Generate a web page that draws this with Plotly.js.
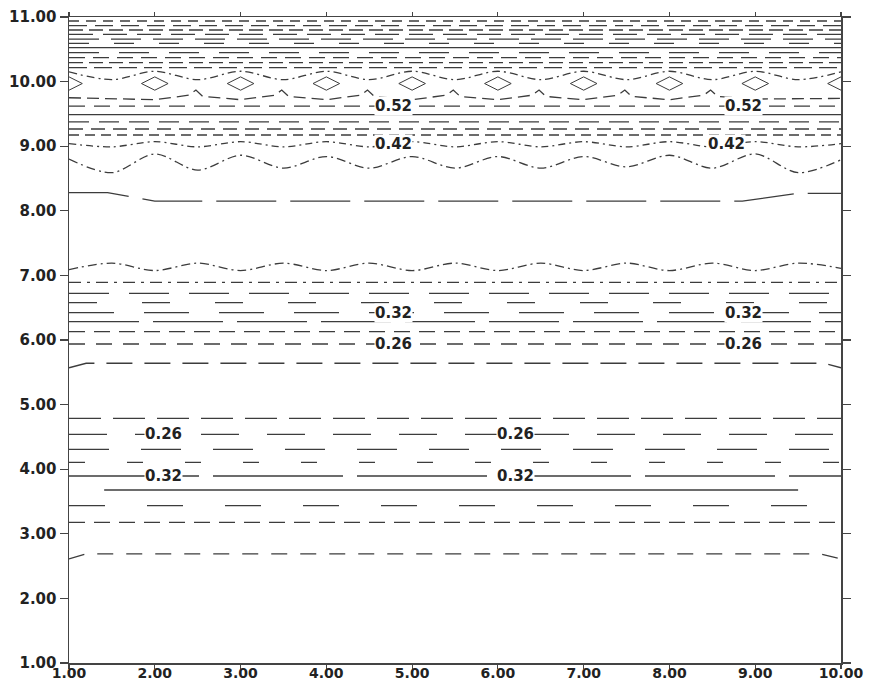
<!DOCTYPE html>
<html>
<head>
<meta charset="utf-8">
<script src="https://cdn.plot.ly/plotly-3.0.1.min.js"></script>
<style>html,body{margin:0;padding:0;background:#fff;}#chart{width:869px;height:683px;}</style>
</head>
<body>
<div id="chart"></div>
<script>
// ---- data ----
// straight (horizontal) contour lines: level position on y
const flatY = [10.938, 10.865, 10.799, 10.732, 10.659, 10.593, 10.525, 10.447, 10.370, 10.293, 10.215,
               9.62, 9.49, 9.375, 9.266, 9.173,
               6.893, 6.723, 6.578, 6.423, 6.283, 6.129, 5.938,
               4.788, 4.540, 4.308, 4.107, 3.895, 3.435, 3.178];

// x positions for the wavy lines
const xHalf = [1, 1.5, 2, 2.5, 3, 3.5, 4, 4.5, 5, 5.5, 6, 6.5, 7, 7.5, 8, 8.5, 9, 9.5, 10];
const waveTop = [10.15, 10.03, 10.16, 10.03, 10.16, 10.03, 10.16, 10.03, 10.16, 10.03, 10.16, 10.03, 10.16, 10.03, 10.16, 10.03, 10.16, 10.03, 10.15];
const wave42 = [9.04, 8.99, 9.07, 8.99, 9.07, 8.99, 9.07, 8.99, 9.07, 8.99, 9.07, 8.99, 9.07, 8.99, 9.07, 8.99, 9.07, 8.99, 9.04];
const waveBig = [8.80, 8.59, 8.88, 8.63, 8.86, 8.66, 8.84, 8.66, 8.84, 8.66, 8.84, 8.66, 8.84, 8.68, 8.86, 8.66, 8.88, 8.59, 8.79];
const wave7 = [7.09, 7.19, 7.075, 7.19, 7.075, 7.19, 7.075, 7.19, 7.075, 7.19, 7.075, 7.19, 7.075, 7.19, 7.075, 7.19, 7.075, 7.19, 7.11];

// spiky line just under the diamonds
const xSpike = [1, 2, 2.4, 2.48, 2.56, 3, 3.4, 3.48, 3.56, 4, 4.4, 4.48, 4.56, 5, 5.4, 5.48, 5.56, 6, 6.4, 6.48, 6.56, 7, 7.4, 7.48, 7.56, 8, 8.4, 8.48, 8.56, 9, 10];
const ySpike = [9.75, 9.72, 9.79, 9.87, 9.77, 9.72, 9.79, 9.87, 9.77, 9.72, 9.79, 9.87, 9.77, 9.72, 9.79, 9.87, 9.77, 9.72, 9.79, 9.87, 9.77, 9.72, 9.79, 9.87, 9.77, 9.72, 9.79, 9.87, 9.77, 9.73, 9.74];

// lines bending at the edges
const x82 = [1, 1.45, 2.0, 8.85, 9.5, 10];
const y82 = [8.28, 8.28, 8.15, 8.15, 8.27, 8.27];
const x565 = [1, 1.2, 9.8, 10];
const y565 = [5.57, 5.64, 5.64, 5.57];
const x270 = [1, 1.2, 9.75, 10];
const y270 = [2.61, 2.69, 2.69, 2.61];
const x368 = [1.41, 9.50];
const y368 = [3.678, 3.678];

// small closed contours (centres)
const diamondX = [1, 2, 3, 4, 5, 6, 7, 8, 9, 10];
const diamondY = [9.97, 9.97, 9.97, 9.97, 9.97, 9.97, 9.97, 9.97, 9.97, 9.97];

// contour labels
const labelText = ['0.52', '0.52', '0.42', '0.42', '0.32', '0.32', '0.26', '0.26', '0.26', '0.26', '0.32', '0.32'];
const labelX = [4.78, 8.86, 4.78, 8.66, 4.78, 8.86, 4.78, 8.86, 2.10, 6.20, 2.10, 6.20];
const labelY = [9.62, 9.62, 9.03, 9.03, 6.423, 6.423, 5.938, 5.938, 4.540, 4.540, 3.895, 3.895];

// ---- styles ----
const flatDash = ['10px,7px', '18px,8px', '14px,6px', '24px,10px', '30px,12px', '20px,25px', 'solid', '30px,20px', '16px,8px', '14px,6px', '18px,7px',
                  '16px,9px', 'solid', '20px,10px', '14px,8px', '10px,6px',
                  '12px,6px,3px,6px', '40px,20px', '28px,45px', '45px,30px', '70px,14px', '16px,9px', '16px,11px',
                  '32px,12px', '38px,28px', '40px,32px', '16px,42px', '130px,14px', '36px,42px', '16px,9px'];
const lineColor = '#3c3c3c';
const lw = 1.3;

const traces = [];
flatY.forEach((v, i) => {
  traces.push({type: 'scatter', mode: 'lines', x: [1, 10], y: [v, v],
    line: {color: lineColor, width: lw, dash: flatDash[i]}, hoverinfo: 'skip'});
});
function addLine(x, y, dash, shape) {
  traces.push({type: 'scatter', mode: 'lines', x: x, y: y,
    line: {color: lineColor, width: lw, dash: dash, shape: shape || 'linear', smoothing: 0.9}, hoverinfo: 'skip'});
}
addLine(xHalf, waveTop, '8px,4px,2px,4px', 'spline');
addLine(xSpike, ySpike, '12px,6px', 'linear');
addLine(xHalf, wave42, '7px,4px,2px,4px', 'spline');
addLine(xHalf, waveBig, '9px,4px,2px,4px', 'spline');
addLine(x82, y82, '60px,14px', 'linear');
addLine(xHalf, wave7, '9px,4px,2px,4px', 'spline');
addLine(x565, y565, '26px,12px', 'linear');
addLine(x270, y270, '16px,13px', 'linear');
addLine(x368, y368, 'solid', 'linear');
traces.push({type: 'scatter', mode: 'markers', x: diamondX, y: diamondY,
  marker: {symbol: 'diamond-wide-open', size: 19, color: lineColor, line: {color: lineColor, width: 1}},
  cliponaxis: true, hoverinfo: 'skip'});

const tickFont = {family: 'DejaVu Sans, Arial, sans-serif', size: 15, color: '#222', weight: 'bold'};
const xTickFont = {family: 'DejaVu Sans, Arial, sans-serif', size: 14, color: '#222', weight: 'bold'};
const annotations = labelText.map((t, i) => ({
  x: labelX[i], y: labelY[i], xref: 'x', yref: 'y', text: t, showarrow: false,
  font: tickFont, bgcolor: '#ffffff', borderpad: 0
}));

const layout = {
  width: 869, height: 683,
  margin: {l: 69, r: 28, t: 17, b: 20},
  paper_bgcolor: '#ffffff', plot_bgcolor: '#ffffff',
  showlegend: false,
  xaxis: {range: [1, 10], dtick: 1, tick0: 1, tickformat: '.2f', showgrid: false, zeroline: false,
    showline: true, linecolor: '#444', linewidth: 1.5, mirror: 'ticks', ticks: 'outside', ticklen: 4,
    tickcolor: '#444', tickwidth: 1.2, tickfont: xTickFont, automargin: false, ticklabelstandoff: -7},
  yaxis: {range: [1, 11], dtick: 1, tick0: 1, tickformat: '.2f', showgrid: false, zeroline: false,
    showline: true, linecolor: '#444', linewidth: 1.5, mirror: 'ticks', ticks: 'outside', ticklen: 8,
    tickcolor: '#444', tickwidth: 1.2, tickfont: tickFont, automargin: false},
  annotations: annotations
};
Plotly.newPlot('chart', traces, layout, {staticPlot: true, displayModeBar: false});
</script>
</body>
</html>
